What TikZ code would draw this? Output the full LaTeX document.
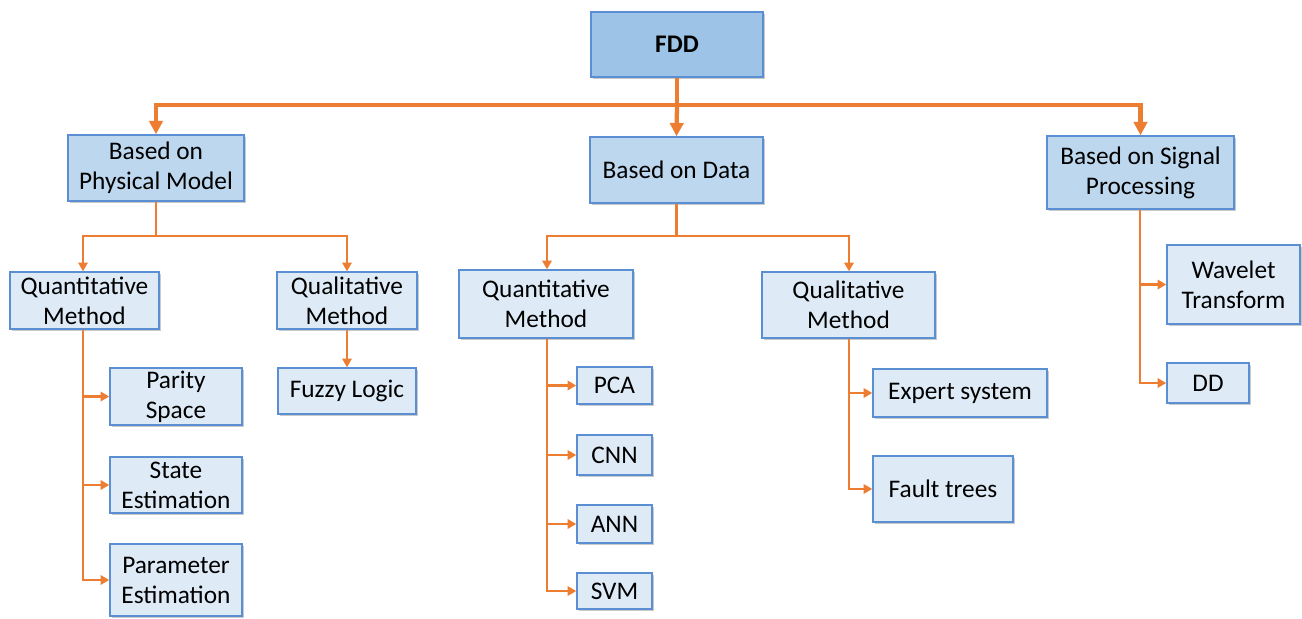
\documentclass[tikz,border=0pt]{standalone}
\usepackage{fontspec}
\setmainfont{Carlito}
\usetikzlibrary{arrows.meta,shadows}
\definecolor{topfill}{HTML}{9DC3E6}
\definecolor{midfill}{HTML}{BDD7EE}
\definecolor{lowfill}{HTML}{DEEBF7}
\definecolor{boxline}{HTML}{5B8FD3}
\definecolor{flow}{HTML}{ED7D31}
\tikzset{
  box/.style={draw=boxline, line width=1.1pt, inner sep=0pt, align=center,
    font=\fontsize{19}{22.5}\selectfont,
    drop shadow={shadow xshift=1.6pt, shadow yshift=-1.6pt, opacity=0.35, fill=black!60}},
  topbox/.style={box, fill=topfill, font=\fontsize{19}{22.5}\selectfont\bfseries},
  midbox/.style={box, fill=midfill},
  lowbox/.style={box, fill=lowfill},
  sz/.style 2 args={minimum width=#1*0.75pt, minimum height=#2*0.75pt},
  mainlink/.style={draw=flow, line width=3.2pt, -{Triangle[length=10pt,width=10pt]}},
  mainbus/.style={draw=flow, line width=3.2pt},
  sublink/.style={draw=flow, line width=2pt, -{Triangle[length=6.5pt,width=7pt]}},
}
\begin{document}
\begin{tikzpicture}[x=0.75pt, y=-0.75pt]
\useasboundingbox (0,0) rectangle (1302,618);

% root and first level
\node[topbox, sz={172}{65}] (fdd) at (677,44.5) {FDD};
\node[midbox, sz={176}{66}] (pm) at (156,168) {Based on\\Physical Model};
\node[midbox, sz={173}{66}] (data) at (676.5,170) {Based on Data};
\node[midbox, sz={187}{73}] (sig) at (1140.5,172.5) {Based on Signal\\Processing};

% physical model branch
\node[lowbox, sz={149}{57}] (qnl) at (84.5,300.5) {Quantitative\\Method};
\node[lowbox, sz={140}{57}] (qll) at (347,300.5) {Qualitative\\Method};
\node[lowbox, sz={132}{57}] (parity) at (176,396.5) {Parity\\Space};
\node[lowbox, sz={132}{56}] (state) at (176,485) {State\\Estimation};
\node[lowbox, sz={132}{72}] (param) at (176,580) {Parameter\\Estimation};
\node[lowbox, sz={138}{46}] (fuzzy) at (347,391) {Fuzzy Logic};

% data branch
\node[lowbox, sz={174}{68}] (qnm) at (546,304) {Quantitative\\Method};
\node[lowbox, sz={173}{66}] (qlm) at (848.5,305) {Qualitative\\Method};
\node[lowbox, sz={75}{37}] (pca) at (614.5,385.5) {PCA};
\node[lowbox, sz={75}{40}] (cnn) at (614.5,455) {CNN};
\node[lowbox, sz={75}{38}] (ann) at (614.5,524) {ANN};
\node[lowbox, sz={75}{36}] (svm) at (614.5,591) {SVM};
\node[lowbox, sz={174}{48}] (expert) at (960,393) {Expert system};
\node[lowbox, sz={140}{66}] (fault) at (943,489) {Fault trees};

% signal processing branch
\node[lowbox, sz={133}{79}] (wave) at (1233.5,284.5) {Wavelet\\Transform};
\node[lowbox, sz={82}{40}] (dd) at (1208,383) {DD};

% bus levels and trunk points
\coordinate (bus0) at (0,105);
\coordinate (bus1) at (0,236);
\coordinate (stemL) at (83,0);
\coordinate (stemM) at (547,0);
\coordinate (stemQ) at (849,0);
\coordinate (stemS) at (1140,0);

% top-level connectors
\draw[mainbus] (fdd.south) -- (fdd.south |- bus0);
\draw[mainlink] (fdd.south |- bus0) -- (data.north);
\draw[mainlink] (fdd.south |- bus0) -| (pm.north);
\draw[mainlink] (fdd.south |- bus0) -| (sig.north);

% second-level connectors
\draw[draw=flow, line width=2pt] (pm.south) -- (pm.south |- bus1);
\draw[sublink] (pm.south |- bus1) -| (qnl.north -| stemL);
\draw[sublink] (pm.south |- bus1) -| (qll.north);
\draw[draw=flow, line width=2pt] (data.south) -- (data.south |- bus1);
\draw[sublink] (data.south |- bus1) -| (qnm.north -| stemM);
\draw[sublink] (data.south |- bus1) -| (qlm.north -| stemQ);

% leaf connectors
\draw[sublink] (qnl.south -| stemL) |- (parity.west);
\draw[sublink] (qnl.south -| stemL) |- (state.west);
\draw[sublink] (qnl.south -| stemL) |- (param.west);
\draw[sublink] (qll.south) -- (fuzzy.north);
\draw[sublink] (qnm.south -| stemM) |- (pca.west);
\draw[sublink] (qnm.south -| stemM) |- (cnn.west);
\draw[sublink] (qnm.south -| stemM) |- (ann.west);
\draw[sublink] (qnm.south -| stemM) |- (svm.west);
\draw[sublink] (qlm.south -| stemQ) |- (expert.west);
\draw[sublink] (qlm.south -| stemQ) |- (fault.west);
\draw[sublink] (sig.south -| stemS) |- (wave.west);
\draw[sublink] (sig.south -| stemS) |- (dd.west);
\end{tikzpicture}
\end{document}
